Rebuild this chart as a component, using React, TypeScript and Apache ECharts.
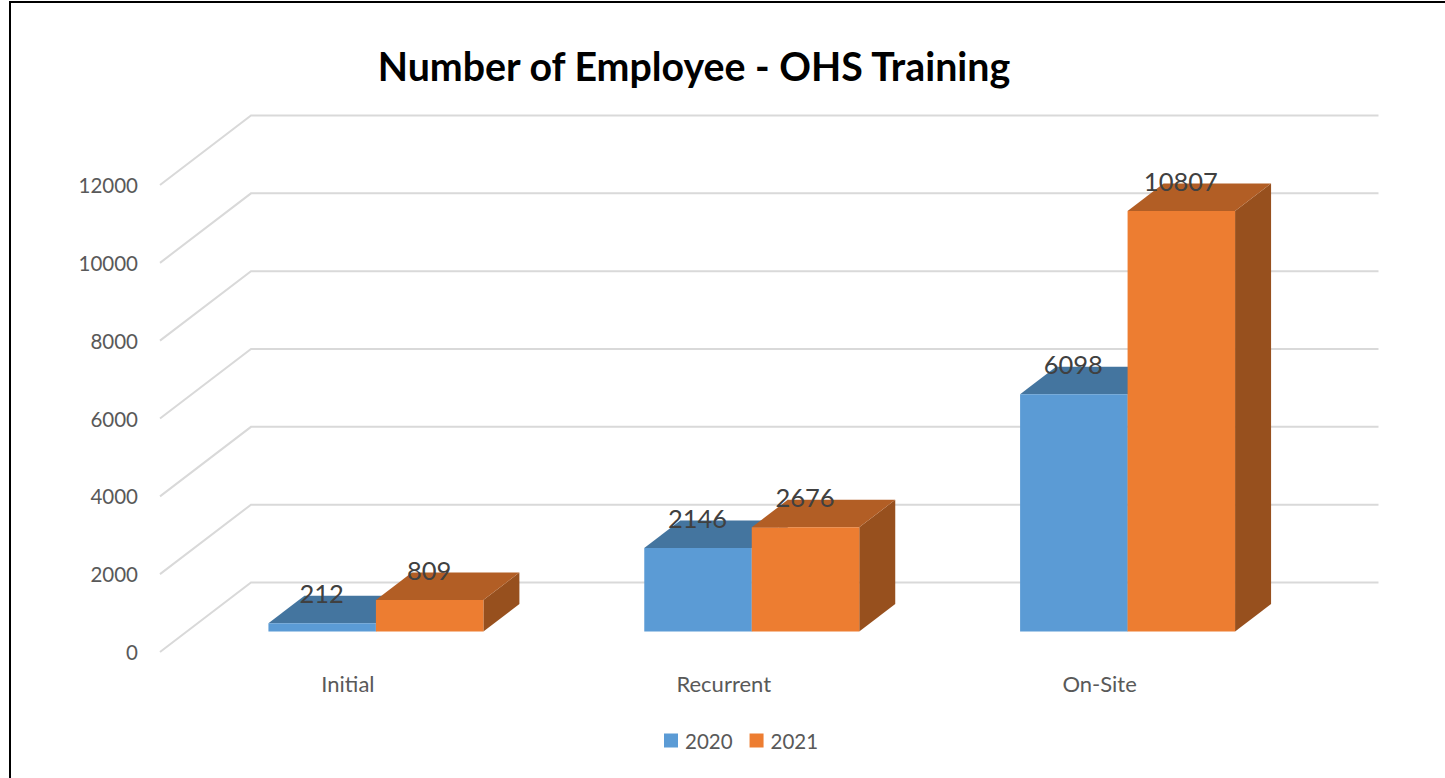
import React, { useEffect, useRef } from "react";
import * as echarts from "echarts";

const categories = ["Initial", "Recurrent", "On-Site"];
const values2020 = [212, 2146, 6098];
const values2021 = [809, 2676, 10807];
const ticks = [0, 2000, 4000, 6000, 8000, 10000, 12000];

const FONT = "Lato";
const WALL_DX = 91;
const WALL_DY = 69.5;
const BAR_DX = 28;
const BAR_DY = 20.5;
const DEPTH_DX = 36;
const DEPTH_DY = 27.5;

function gridRender(params: any, api: any) {
  const cs = params.coordSys;
  const y = api.coord([0, api.value(1)])[1];
  return {
    type: "polyline",
    shape: {
      points: [
        [cs.x, y],
        [cs.x + WALL_DX, y - WALL_DY],
        [cs.x + cs.width + WALL_DX, y - WALL_DY],
      ],
    },
    style: { stroke: "#D9D9D9", lineWidth: 2, fill: "none" },
  };
}

function barRender(slot: number, front: string, top: string, side: string) {
  return (_params: any, api: any) => {
    const cat = api.value(0);
    const val = api.value(1);
    const w = api.size([1, 0])[0] * 0.286;
    const c0 = api.coord([cat, 0]);
    const c1 = api.coord([cat, val]);
    const x0 = c0[0] + BAR_DX + (slot - 1) * w;
    const x1 = x0 + w;
    const yb = c0[1] - BAR_DY;
    const yt = c1[1] - BAR_DY;
    const poly = (points: number[][], fill: string) => ({
      type: "polygon",
      shape: { points },
      style: { fill, stroke: "none" },
    });
    return {
      type: "group",
      children: [
        poly(
          [
            [x1, yb],
            [x1 + DEPTH_DX, yb - DEPTH_DY],
            [x1 + DEPTH_DX, yt - DEPTH_DY],
            [x1, yt],
          ],
          side,
        ),
        poly(
          [
            [x0, yt],
            [x0 + DEPTH_DX, yt - DEPTH_DY],
            [x1 + DEPTH_DX, yt - DEPTH_DY],
            [x1, yt],
          ],
          top,
        ),
        poly(
          [
            [x0, yb],
            [x1, yb],
            [x1, yt],
            [x0, yt],
          ],
          front,
        ),
        {
          type: "text",
          z2: 100,
          style: {
            text: String(val),
            x: (x0 + x1) / 2 - 0.5,
            y: yt - 30,
            align: "center",
            verticalAlign: "middle",
            fill: "#404040",
            fontSize: 25.5,
            fontFamily: FONT,
          },
        },
      ],
    };
  };
}

export default function App() {
  const ref = useRef<HTMLDivElement>(null);
  useEffect(() => {
    document.body.style.margin = "0";
    const chart = echarts.init(ref.current!, undefined, { renderer: "svg" });
    chart.setOption({
      animation: false,
      backgroundColor: "#ffffff",
      title: {
        text: "Number of Employee - OHS Training",
        left: 689,
        top: 41,
        textAlign: "center",
        textStyle: { fontFamily: FONT, fontWeight: "bold", fontSize: 39.3, color: "#000000" },
      },
      legend: {
        left: 659,
        top: 725,
        selectedMode: false,
        itemWidth: 14,
        itemHeight: 14,
        itemGap: 17,
        icon: "rect",
        textStyle: { fontFamily: FONT, fontSize: 20.5, color: "#595959", padding: [0, 0, 0, 2] },
        data: ["2020", "2021"],
      },
      grid: { left: 160, top: 185, width: 1127.5, height: 467 },
      xAxis: {
        type: "category",
        data: categories,
        axisLine: { show: false },
        axisTick: { show: false },
        axisLabel: { margin: 20, fontFamily: FONT, fontSize: 22, color: "#595959" },
      },
      yAxis: {
        type: "value",
        min: 0,
        max: 12000,
        interval: 2000,
        axisLine: { show: false },
        axisTick: { show: false },
        splitLine: { show: false },
        axisLabel: {
          margin: 22,
          fontFamily: FONT,
          fontSize: 20.5,
          color: "#595959",
          formatter: (v: number) => String(v),
        },
      },
      graphic: [
        {
          type: "polyline",
          silent: true,
          shape: { points: [[1445, 2], [10, 2], [10, 778]] },
          style: { stroke: "#000000", lineWidth: 2, fill: "none" },
        },
      ],
      series: [
        {
          type: "custom",
          name: "walls",
          silent: true,
          clip: false,
          z: 1,
          encode: { x: 0, y: 1 },
          data: ticks.map((t) => [0, t]),
          renderItem: gridRender,
        },
        {
          type: "custom",
          name: "2020",
          silent: true,
          z: 2,
          itemStyle: { color: "#5B9BD5" },
          encode: { x: 0, y: 1 },
          data: values2020.map((v, i) => [i, v]),
          renderItem: barRender(0, "#5B9BD5", "#44759F", "#3A6A94"),
        },
        {
          type: "custom",
          name: "2021",
          silent: true,
          z: 3,
          itemStyle: { color: "#ED7D31" },
          encode: { x: 0, y: 1 },
          data: values2021.map((v, i) => [i, v]),
          renderItem: barRender(1, "#ED7D31", "#B25E25", "#97501E"),
        },
      ],
    });
    return () => chart.dispose();
  }, []);
  return <div ref={ref} style={{ width: 1445, height: 778 }} />;
}
